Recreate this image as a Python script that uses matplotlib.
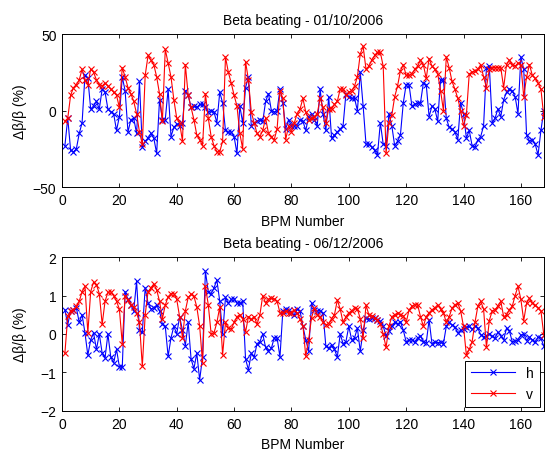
import numpy as np
import matplotlib
matplotlib.use("Agg")
import matplotlib.pyplot as plt

plt.rcParams['font.family'] = ['Liberation Sans', 'DejaVu Sans']
plt.rcParams['font.size'] = 10

bpm = np.arange(1, 169)

# beta beating 01/10/2006, percent
beat1_h = [-23, -5, -26, -27, -25, -15, -8, 23, 21, 1,
           3, 6, 1, 14, 12, 1, -1, -2, -13, -4,
           22, 13, -14, -6, -5, -15, 19, -24, -20, -18,
           -15, -18, -28, 7, -6, -6, 14, -17, -11, -9,
           -10, -8, 13, 10, 2, 3, 2, 4, 4, 2,
           -1, 0, -1, -8, 12, 5, -13, -14, -14, -17,
           -28, 3, -8, 15, 22, -10, -8, -7, -6, -7,
           6, 11, 0, -1, 0, 14, 5, -12, -6, -10,
           -10, -10, -6, -7, -13, -4, -2, -6, -10, 14,
           -2, -13, 9, -18, -16, -14, -12, -10, 11, 9,
           8, 8, 0, 25, 3, -22, -22, -24, -26, -29,
           -8, -22, -23, -2, -10, -23, -20, -16, 5, 17,
           17, 3, 4, 5, 5, 18, 17, -4, 3, 1,
           -7, 20, 20, -5, -11, -12, -14, -19, 5, -2,
           -18, -13, -23, -24, -19, -17, -10, 28, 29, -8,
           -5, 1, -4, 7, 12, 14, 13, 9, -2, 35,
           27, -16, -20, -19, -22, -29, -13, 0]
beat1_v = [-7, -5, 10, 15, 17, 20, 27, 20, 17, 27,
           25, 20, 17, 16, 18, 16, 14, 12, 10, 2,
           28, 22, 15, 11, 6, -2, -14, -22, 23, 36,
           33, 30, 22, 11, -7, 40, 31, 22, 7, -5,
           -8, -20, 30, 10, 2, -6, -16, -19, -23, 11,
           -5, -17, -23, -27, -27, -20, 35, 25, 18, 10,
           3, -15, -25, 32, 20, -1, -8, -15, -17, -13,
           -5, -15, -17, -19, -12, 13, 8, -19, -10, -14,
           -8, -2, 1, 8, -1, -6, -5, -4, -2, 8,
           2, -8, 1, 1, 4, 6, 14, 14, 10, 12,
           13, 16, 22, 37, 42, 27, 29, 33, 36, 38,
           38, 29, -28, -8, -3, 9, 16, 26, 30, 23,
           23, 24, 27, 29, 33, 30, 21, 34, 29, 27,
           24, 13, 0, 35, 28, 19, 14, 8, 0, -10,
           -3, 24, 25, 26, 27, 30, 22, 15, 27, 28,
           28, 28, 28, 15, 30, 33, 30, 29, 31, 30,
           9, 22, 30, 23, 21, 18, 14, -4]

# beta beating 06/12/2006, percent
beat2_h = [0.63, 0.24, 0.6, 0.63, 0.68, 0.3, 0.5, 0.03, -0.55, -0.15,
           0.03, -0.4, 0.0, -0.5, -0.62, 0.0, -0.6, -0.75, -0.4, -0.85,
           -0.87, 1.1, 0.9, 0.75, 0.6, 1.37, 0.1, 0.05, 1.2, 0.8,
           0.65, 0.68, 0.75, 0.6, 0.25, 0.2, -0.58, -0.1, 0.2, 0.0,
           0.45, 0.1, -0.3, 0.3, -0.65, -0.9, -0.5, -1.19, -0.6, 1.63,
           1.1, 1.05, 1.2, 1.4, 0.85, 0.0, 0.95, 0.8, 0.9, 0.92,
           0.8, 0.8, 0.85, -0.65, -0.93, -0.5, -0.6, -0.25, -0.2, 0.0,
           -0.35, -0.45, -0.37, -0.1, -0.1, -0.6, 0.6, 0.65, 0.62, 0.55,
           0.5, 0.65, 0.6, 0.2, -0.15, -0.45, 0.8, 0.63, 0.6, 0.6,
           0.55, -0.32, -0.37, -0.28, -0.4, -0.6, 0.0, -0.25, -0.2, 0.2,
           -0.15, -0.1, 0.15, -0.45, 0.1, 0.42, 0.38, 0.42, 0.42, 0.37,
           0.33, 0.2, -0.05, 0.07, 0.22, 0.3, 0.25, 0.32, 0.1, -0.2,
           -0.16, -0.15, -0.2, -0.1, -0.05, -0.2, -0.23, 0.37, -0.25, -0.2,
           -0.23, -0.2, -0.25, 0.2, 0.3, 0.23, 0.18, 0.03, 0.1, 0.13,
           0.17, 0.2, 0.12, 0.2, 0.15, -0.02, -0.07, -0.06, 0.0, -0.06,
           -0.1, 0.05, -0.05, -0.15, 0.15, 0.08, -0.2, -0.18, -0.15, -0.03,
           0.0, -0.17, -0.08, -0.15, -0.2, -0.08, -0.1, -0.32]
beat2_v = [-0.5, 0.46, 0.6, 0.63, 0.72, 0.85, 1.1, 1.24, 0.03, 1.1,
           1.35, 1.28, 1.05, 0.25, 0.85, 1.08, 1.1, 1.0, 0.85, 0.65,
           -0.25, 1.0, 0.88, 0.75, 0.7, 0.55, 0.3, -0.84, 0.5, 1.1,
           1.2, 1.3, 1.15, 0.85, 0.4, 0.75, 0.97, 1.05, 1.05, 0.9,
           0.45, -0.1, 0.6, 0.95, 1.03, 0.98, 0.7, 0.2, -0.75, 1.24,
           0.76, 0.0, 0.03, 0.3, 0.7, -0.54, 0.3, 0.15, 0.13, 0.3,
           0.45, 0.5, 0.4, 0.05, 0.45, 0.38, 0.45, 0.25, 0.5, 1.0,
           0.8, 0.9, 0.93, 0.9, 0.85, 0.55, 0.55, 0.6, 0.55, 0.55,
           0.62, 0.55, 0.38, 0.22, -0.58, -0.15, 0.42, 0.67, 0.5, 0.45,
           0.3, 0.24, 0.27, 0.4, 0.5, 0.88, 0.65, 0.3, 0.45, 0.55,
           0.6, 0.68, 0.65, 0.4, -0.1, 0.75, 0.5, 0.47, 0.42, 0.37,
           0.25, 0.0, -0.35, 0.2, 0.45, 0.5, 0.55, 0.5, 0.47, 0.3,
           0.62, 0.72, 0.76, 0.76, 0.45, 0.2, 0.45, 0.55, 0.63, 0.68,
           0.76, 0.65, 0.55, 0.3, 0.45, 0.67, 0.76, 0.8, 0.6, 0.2,
           -0.55, -0.4, -0.2, 0.3, 0.72, 0.85, 0.65, -0.35, 0.35, 0.6,
           0.63, 0.73, 0.85, 0.45, 0.5, 0.63, 0.72, 1.0, 1.24, 0.9,
           0.35, 0.8, 0.93, 0.8, 0.75, 0.68, 0.6, -0.02]

fig = plt.figure(figsize=(5.45, 4.52), dpi=100)
ax1 = fig.add_axes([0.1138, 0.584, 0.884, 0.3385])
ax2 = fig.add_axes([0.1138, 0.0885, 0.884, 0.3407])

style = dict(marker='x', markersize=4, markeredgewidth=0.8, linewidth=0.8)

for ax, h, v, lim, ticks, title in [
        (ax1, beat1_h, beat1_v, (-50, 50), [-50, 0, 50], 'Beta beating - 01/10/2006'),
        (ax2, beat2_h, beat2_v, (-2, 2), [-2, -1, 0, 1, 2], 'Beta beating - 06/12/2006')]:
    ax.plot(bpm, h, color=(0, 0, 1), label='h', **style)
    ax.plot(bpm, v, color=(1, 0, 0), label='v', **style)
    ax.set_xlim(0, 168)
    ax.set_ylim(*lim)
    ax.set_xticks(range(0, 161, 20))
    ax.set_yticks(ticks)
    ax.tick_params(direction='in', top=True, right=True, length=3, width=0.6, pad=4)
    for s in ax.spines.values():
        s.set_linewidth(0.7)
    ax.set_xlabel('BPM Number', labelpad=5)
    ax.set_ylabel('Δβ/β (%)')
    ax.yaxis.set_label_coords(-0.072, 0.5)
    ax.set_title(title, pad=7, fontsize=10)

leg = ax2.legend(loc='lower right', fontsize=10, handlelength=3.2, numpoints=1,
                 fancybox=False, edgecolor='black', framealpha=1,
                 borderaxespad=0.3, labelspacing=0.5)
leg.get_frame().set_linewidth(0.7)

fig.savefig('out.png', dpi=100)
